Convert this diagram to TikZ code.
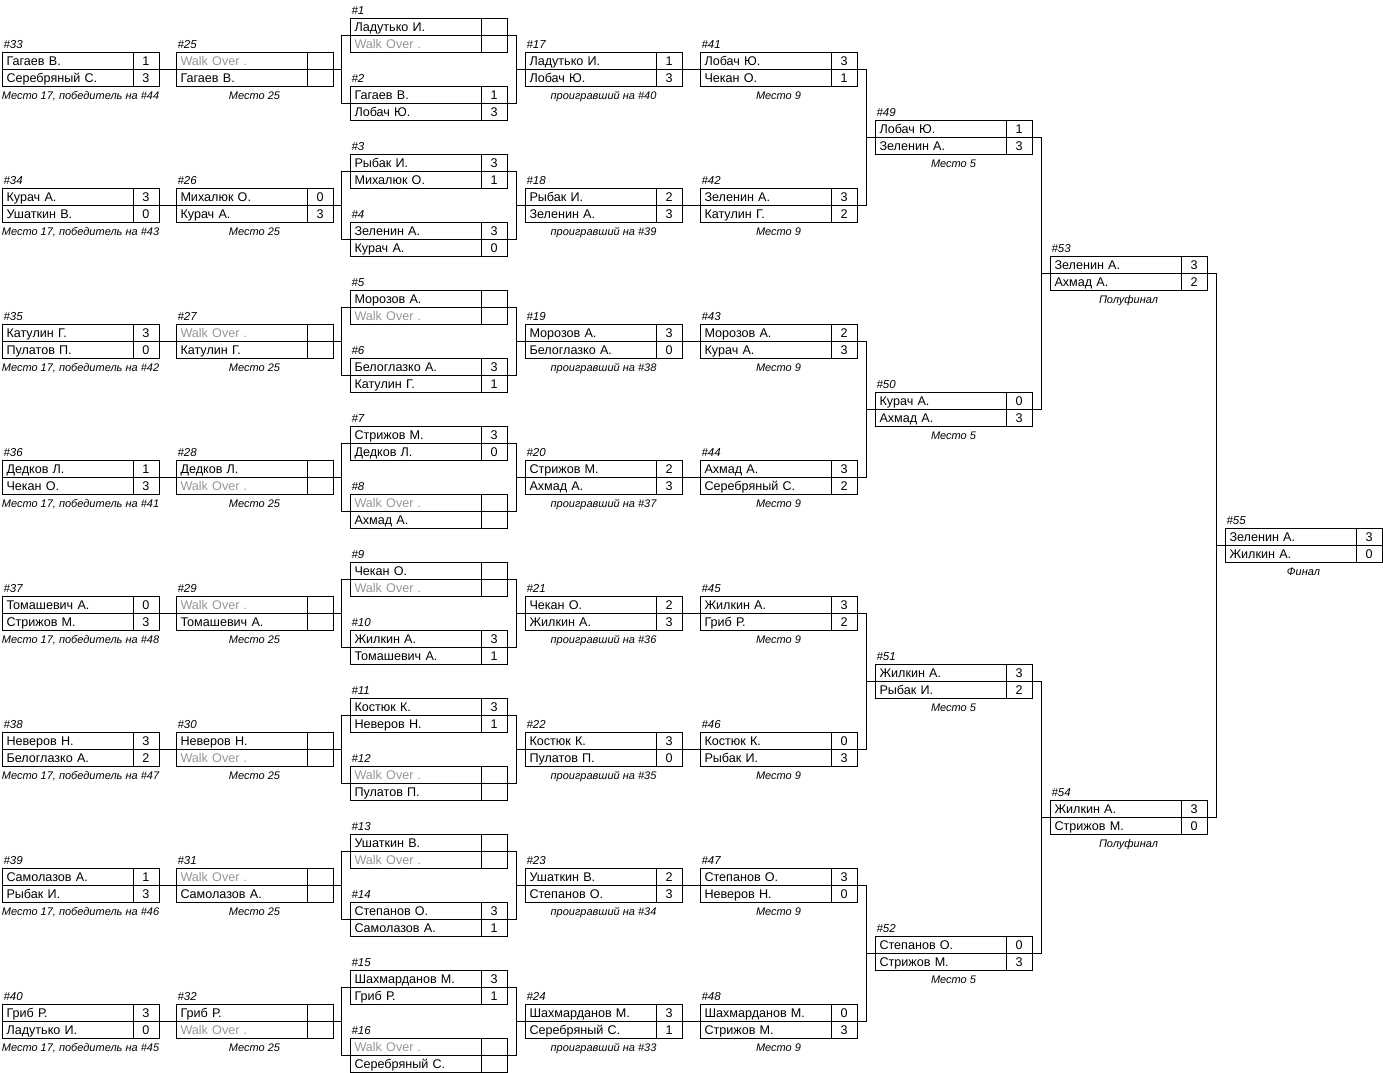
\documentclass[tikz,border=0pt]{standalone}
\usepackage{fontspec}
\setmainfont{Liberation Sans}
\usetikzlibrary{positioning,calc}
\definecolor{walkover-grey}{HTML}{969696}

\newcommand{\wo}{\textcolor{walkover-grey}{Walk Over .}}
\newcommand{\game}[8]{%
  \node[pname, anchor=north west] (g#1n1) at (#2,{17*#3+1}) {#4};
  \node[pscore, right=0pt of g#1n1] (g#1s1) {#5};
  \node[pname, below=0pt of g#1n1] (g#1n2) {#6};
  \node[pscore, right=0pt of g#1n2] (g#1s2) {#7};
  \node[gnum, above right=0pt of g#1n1.north west] (g#1l) {\##1};
  \if\relax\detokenize{#8}\relax\else
    \node[gcap] (g#1c) at ($(g#1n2.south west)!.5!(g#1s2.south east)$) {#8};
  \fi}

\begin{document}
\begin{tikzpicture}[x=1pt, y=-1pt, line width=1pt,
    pname/.style={draw, outer sep=0pt, inner xsep=4.5pt, inner ysep=0pt, text width=122pt, align=left, minimum height=17pt, text height=10.5pt, text depth=1.5pt, font=\fontsize{12.6}{14}\selectfont},
    pscore/.style={draw, outer sep=0pt, inner sep=0pt, minimum width=26pt, minimum height=17pt, text height=10.5pt, text depth=1.5pt, font=\fontsize{12.6}{14}\selectfont},
    gnum/.style={inner xsep=1pt, inner ysep=3.5pt, text depth=0pt, font=\fontsize{11.5}{13}\selectfont\itshape},
    gcap/.style={anchor=north, inner xsep=0pt, inner ysep=4pt, text height=9pt, text depth=2pt, font=\fontsize{11}{13}\selectfont\itshape}]
    \useasboundingbox (0,0) rectangle (1383,1072);

    % consolation, first round
    \game{33}{2}{3}{Гагаев В.}{1}{Серебряный С.}{3}{Место 17, победитель на \#44}
    \game{34}{2}{11}{Курач А.}{3}{Ушаткин В.}{0}{Место 17, победитель на \#43}
    \game{35}{2}{19}{Катулин Г.}{3}{Пулатов П.}{0}{Место 17, победитель на \#42}
    \game{36}{2}{27}{Дедков Л.}{1}{Чекан О.}{3}{Место 17, победитель на \#41}
    \game{37}{2}{35}{Томашевич А.}{0}{Стрижов М.}{3}{Место 17, победитель на \#48}
    \game{38}{2}{43}{Неверов Н.}{3}{Белоглазко А.}{2}{Место 17, победитель на \#47}
    \game{39}{2}{51}{Самолазов А.}{1}{Рыбак И.}{3}{Место 17, победитель на \#46}
    \game{40}{2}{59}{Гриб Р.}{3}{Ладутько И.}{0}{Место 17, победитель на \#45}

    \game{25}{176}{3}{\wo}{}{Гагаев В.}{}{Место 25}
    \game{26}{176}{11}{Михалюк О.}{0}{Курач А.}{3}{Место 25}
    \game{27}{176}{19}{\wo}{}{Катулин Г.}{}{Место 25}
    \game{28}{176}{27}{Дедков Л.}{}{\wo}{}{Место 25}
    \game{29}{176}{35}{\wo}{}{Томашевич А.}{}{Место 25}
    \game{30}{176}{43}{Неверов Н.}{}{\wo}{}{Место 25}
    \game{31}{176}{51}{\wo}{}{Самолазов А.}{}{Место 25}
    \game{32}{176}{59}{Гриб Р.}{}{\wo}{}{Место 25}

    % main draw
    \game{1}{350}{1}{Ладутько И.}{}{\wo}{}{}
    \game{2}{350}{5}{Гагаев В.}{1}{Лобач Ю.}{3}{}
    \game{3}{350}{9}{Рыбак И.}{3}{Михалюк О.}{1}{}
    \game{4}{350}{13}{Зеленин А.}{3}{Курач А.}{0}{}
    \game{5}{350}{17}{Морозов А.}{}{\wo}{}{}
    \game{6}{350}{21}{Белоглазко А.}{3}{Катулин Г.}{1}{}
    \game{7}{350}{25}{Стрижов М.}{3}{Дедков Л.}{0}{}
    \game{8}{350}{29}{\wo}{}{Ахмад А.}{}{}
    \game{9}{350}{33}{Чекан О.}{}{\wo}{}{}
    \game{10}{350}{37}{Жилкин А.}{3}{Томашевич А.}{1}{}
    \game{11}{350}{41}{Костюк К.}{3}{Неверов Н.}{1}{}
    \game{12}{350}{45}{\wo}{}{Пулатов П.}{}{}
    \game{13}{350}{49}{Ушаткин В.}{}{\wo}{}{}
    \game{14}{350}{53}{Степанов О.}{3}{Самолазов А.}{1}{}
    \game{15}{350}{57}{Шахмарданов М.}{3}{Гриб Р.}{1}{}
    \game{16}{350}{61}{\wo}{}{Серебряный С.}{}{}

    \game{17}{525}{3}{Ладутько И.}{1}{Лобач Ю.}{3}{проигравший на \#40}
    \game{18}{525}{11}{Рыбак И.}{2}{Зеленин А.}{3}{проигравший на \#39}
    \game{19}{525}{19}{Морозов А.}{3}{Белоглазко А.}{0}{проигравший на \#38}
    \game{20}{525}{27}{Стрижов М.}{2}{Ахмад А.}{3}{проигравший на \#37}
    \game{21}{525}{35}{Чекан О.}{2}{Жилкин А.}{3}{проигравший на \#36}
    \game{22}{525}{43}{Костюк К.}{3}{Пулатов П.}{0}{проигравший на \#35}
    \game{23}{525}{51}{Ушаткин В.}{2}{Степанов О.}{3}{проигравший на \#34}
    \game{24}{525}{59}{Шахмарданов М.}{3}{Серебряный С.}{1}{проигравший на \#33}

    \game{41}{700}{3}{Лобач Ю.}{3}{Чекан О.}{1}{Место 9}
    \game{42}{700}{11}{Зеленин А.}{3}{Катулин Г.}{2}{Место 9}
    \game{43}{700}{19}{Морозов А.}{2}{Курач А.}{3}{Место 9}
    \game{44}{700}{27}{Ахмад А.}{3}{Серебряный С.}{2}{Место 9}
    \game{45}{700}{35}{Жилкин А.}{3}{Гриб Р.}{2}{Место 9}
    \game{46}{700}{43}{Костюк К.}{0}{Рыбак И.}{3}{Место 9}
    \game{47}{700}{51}{Степанов О.}{3}{Неверов Н.}{0}{Место 9}
    \game{48}{700}{59}{Шахмарданов М.}{0}{Стрижов М.}{3}{Место 9}

    \game{49}{875}{7}{Лобач Ю.}{1}{Зеленин А.}{3}{Место 5}
    \game{50}{875}{23}{Курач А.}{0}{Ахмад А.}{3}{Место 5}
    \game{51}{875}{39}{Жилкин А.}{3}{Рыбак И.}{2}{Место 5}
    \game{52}{875}{55}{Степанов О.}{0}{Стрижов М.}{3}{Место 5}

    \game{53}{1050}{15}{Зеленин А.}{3}{Ахмад А.}{2}{Полуфинал}
    \game{54}{1050}{47}{Жилкин А.}{3}{Стрижов М.}{0}{Полуфинал}

    \game{55}{1225}{31}{Зеленин А.}{3}{Жилкин А.}{0}{Финал}

    % connectors
    \foreach \a/\b in {33/25,34/26,35/27,36/28,37/29,38/30,39/31,40/32,17/41,18/42,19/43,20/44,21/45,22/46,23/47,24/48}
        \draw (g\a s1.south east) -- (g\b n1.south west);

    \foreach \p/\q/\c in {1/2/25,3/4/26,5/6/27,7/8/28,9/10/29,11/12/30,13/14/31,15/16/32}{
        \draw (g\p n1.south west) -- ++(-9,0) coordinate (bar\p) |- (g\q n1.south west);
        \draw (g\c s1.south east) -- (bar\p |- g\c s1.south east);
    }

    \foreach \p/\q/\d in {1/2/17,3/4/18,5/6/19,7/8/20,9/10/21,11/12/22,13/14/23,15/16/24,41/42/49,43/44/50,45/46/51,47/48/52,49/50/53,51/52/54,53/54/55}{
        \draw (g\p s1.south east) -- ++(9,0) coordinate (join\p) |- (g\q s1.south east);
        \draw (g\d n1.south west) -- (join\p |- g\d n1.south west);
    }

\end{tikzpicture}
\end{document}
